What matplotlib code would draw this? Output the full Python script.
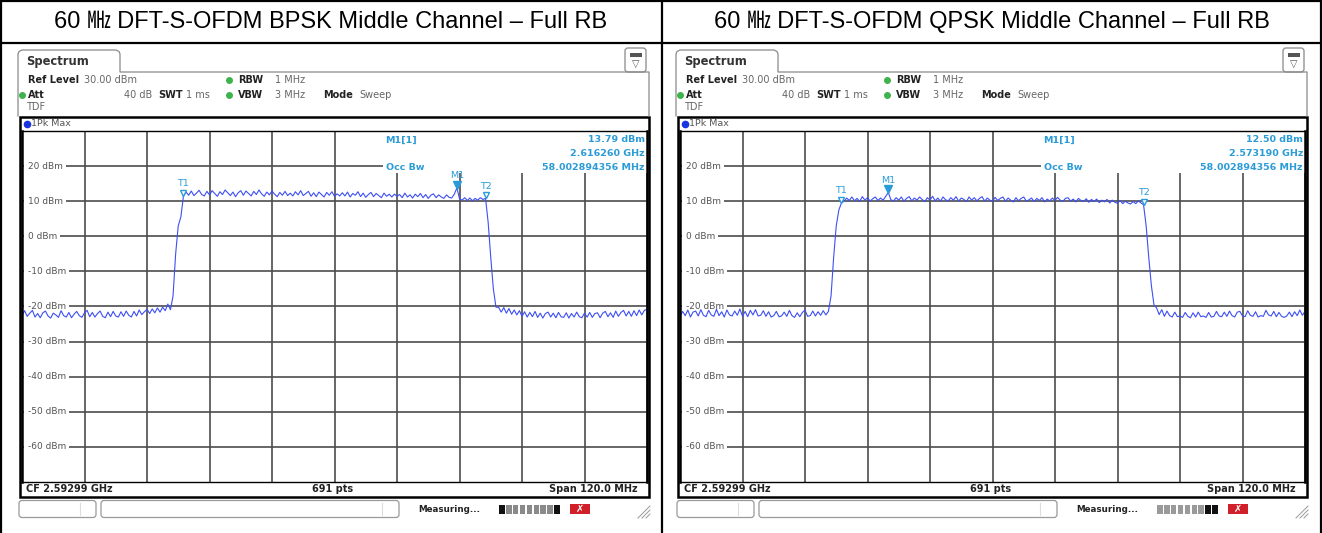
import numpy as np
import matplotlib
matplotlib.use("Agg")
import matplotlib.pyplot as plt
from matplotlib.patches import Rectangle, FancyBboxPatch
import matplotlib.transforms as mtransforms

# ---------------- data ----------------
titles = ["60 ㎒ DFT-S-OFDM BPSK Middle Channel – Full RB",
          "60 ㎒ DFT-S-OFDM QPSK Middle Channel – Full RB"]
center_freq_ghz = 2.59299
span_mhz = 120.0
n_points = 691
ref_level_dbm = 30.0
bottom_level_dbm = -70.0
y_tick_values = [20, 10, 0, -10, -20, -30, -40, -50, -60]
m1_level_dbm = [13.79, 12.50]
m1_freq_ghz = [2.616260, 2.573190]
occ_bw_mhz = [58.002894356, 58.002894356]

# trace levels (dBm), 0.5 MHz steps from -60 to +60 MHz
bpsk_levels = [
    -22.6, -21.2, -22.8, -21.9, -21.1, -23.0, -22.0, -23.2, -21.8, -21.3,
    -22.7, -23.3, -21.9, -22.4, -23.1, -21.2, -22.6, -23.0, -21.7, -23.2,
    -22.2, -21.4, -22.6, -23.1, -21.8, -21.1, -22.9, -21.7, -23.0, -22.0,
    -21.3, -22.8, -23.2, -21.6, -22.9, -21.4, -22.7, -23.0, -21.5, -22.8,
    -21.3, -22.5, -23.0, -21.4, -22.7, -21.0, -22.3, -21.5, -20.8, -22.0,
    -20.7, -21.8, -20.4, -21.6, -20.2, -21.2, -19.3, -20.9,
    -17.0, -5.0, 3.0, 5.5, 11.5,
    12.6, 11.7, 12.9, 11.6, 12.3, 13.1, 11.9, 11.5, 12.8, 11.8,
    13.0, 12.2, 11.4, 12.7, 11.9, 13.2, 12.4, 11.6, 12.6, 11.3,
    12.4, 13.0, 11.7, 12.9, 12.2, 11.5, 12.8, 11.9, 13.2, 12.1,
    11.4, 12.6, 11.8, 12.9, 12.0, 11.3, 12.5, 11.7, 12.8, 11.6,
    12.3, 11.5, 12.7, 11.8, 13.0, 11.6, 12.2, 12.8, 11.4, 12.4,
    11.3, 12.6, 11.9, 11.2, 12.5, 11.7, 12.7, 11.4, 12.1, 11.5,
    12.4, 11.5, 12.6, 11.2, 12.2, 11.7, 12.7, 11.3, 12.3, 11.1,
    11.9, 12.5, 11.3, 12.2, 11.6, 11.0, 12.3, 11.4, 12.0, 11.2,
    12.0, 11.4, 11.9, 11.0, 12.3, 11.2, 11.8, 10.9, 12.0, 11.3,
    12.2, 11.0, 11.9, 10.8, 11.7, 12.1, 11.0, 11.8, 11.2, 10.8,
    11.8, 11.1, 10.9, 12.0, 13.79, 10.7, 10.3, 11.0, 10.2, 10.9,
    10.1, 10.8, 10.3, 11.0, 10.5,
    10.8, 4.0, -6.0, -15.0, -20.2,
    -20.2, -21.6, -20.3, -21.9, -20.6, -22.2, -21.0, -22.4, -21.2, -22.8,
    -21.5, -23.0, -21.7, -22.9, -21.4, -23.1, -21.9, -23.3, -22.0, -21.6,
    -23.0, -21.9, -23.2, -21.7, -22.9, -23.1, -21.8, -23.3, -22.0, -23.0,
    -21.6, -22.9, -23.2, -21.9, -23.0, -21.7, -23.1, -22.0, -21.8, -23.2,
    -21.9, -21.4, -22.9, -21.8, -23.1, -21.3, -22.8, -21.7, -21.1, -22.7,
    -21.4, -22.8, -21.2, -22.6, -21.0, -22.4, -21.1, -20.8,
]
qpsk_levels = [
    -22.8, -21.4, -22.6, -21.0, -23.0, -21.6, -21.3, -22.7, -20.9, -22.5,
    -22.9, -21.1, -22.4, -22.8, -20.8, -22.6, -21.5, -23.0, -21.0, -22.4,
    -22.7, -21.3, -22.5, -20.7, -22.8, -21.4, -22.9, -21.1, -22.4, -20.9,
    -22.7, -22.5, -21.2, -22.8, -21.5, -23.0, -22.6, -21.4, -22.9, -22.7,
    -21.6, -22.8, -21.1, -22.6, -23.1, -21.8, -22.9, -21.7, -21.0, -22.8,
    -22.6, -21.3, -22.7, -21.5, -22.5, -21.2, -22.4, -21.4,
    -17.0, -6.0, 3.0, 7.5, 9.5,
    10.0, 10.9, 10.2, 11.2, 10.1, 10.8, 9.9, 11.3, 10.3, 11.0,
    10.0, 10.7, 11.2, 10.2, 10.9, 10.3, 11.4, 12.50, 10.4, 10.1,
    11.0, 10.3, 11.2, 10.0, 10.8, 11.3, 10.1, 10.9, 10.3, 11.2,
    10.5, 9.9, 11.0, 10.3, 11.4, 10.1, 10.9, 10.0, 11.2, 10.4,
    10.1, 11.0, 10.3, 11.3, 10.0, 10.9, 10.5, 9.9, 11.2, 10.3,
    11.0, 10.1, 10.8, 11.3, 10.0, 10.9, 10.3, 9.9, 11.1, 10.2,
    10.8, 11.2, 10.0, 10.9, 10.3, 9.8, 11.0, 10.1, 10.8, 11.2,
    10.0, 10.4, 10.9, 9.9, 10.8, 10.2, 11.0, 9.8, 10.6, 10.1,
    10.9, 10.2, 11.1, 10.3, 9.9, 10.8, 11.0, 10.0, 10.6, 9.8,
    10.8, 10.2, 9.9, 10.7, 9.7, 10.5, 9.9, 10.6, 9.6, 10.3,
    9.8, 10.5, 9.5, 10.3, 9.7, 9.4, 10.2, 9.3, 10.0, 9.5,
    9.2, 9.9, 9.3, 10.1, 9.5,
    9.0, 3.0, -6.0, -14.0, -19.5,
    -20.4, -22.3, -20.9, -22.8, -21.3, -22.6, -23.0, -21.6, -22.9, -22.7,
    -23.1, -21.7, -22.8, -23.2, -21.8, -23.0, -21.6, -22.9, -22.7, -23.1,
    -21.7, -23.0, -22.8, -21.4, -22.7, -22.9, -21.6, -22.8, -21.3, -22.6,
    -23.0, -21.6, -21.4, -22.7, -22.9, -21.2, -22.5, -22.8, -21.5, -23.0,
    -22.6, -22.8, -21.1, -22.4, -22.7, -21.4, -22.9, -21.7, -22.8, -23.1,
    -22.7, -21.6, -22.9, -21.5, -22.6, -21.0, -22.5, -21.4,
]
traces = [bpsk_levels, qpsk_levels]

# ---------------- layout ----------------
W, H = 1322, 533
fig = plt.figure(figsize=(W / 100, H / 100), dpi=100)
bg = fig.add_axes([0, 0, 1, 1])
bg.set_xlim(0, W)
bg.set_ylim(H, 0)
bg.axis("off")

LB = "#2b9bd8"      # marker text colour
TRACE = "#3d4ff5"
GREEN = "#3cb44b"
GRID = "#4d4d4d"


def T(x, y, s, **kw):
    kw.setdefault("fontsize", 7)
    kw.setdefault("va", "center")
    kw.setdefault("ha", "left")
    kw.setdefault("color", "#222222")
    return bg.text(x, y, s, **kw)


# table borders
for y in (1, 43):
    bg.plot([0, W], [y, y], color="black", lw=1.6)
for x in (1, 662, 1320.5):
    bg.plot([x, x], [0, H], color="black", lw=1.6)

panel_offsets = [0, 658]
title_cx = [331, 992]

for k in range(2):
    ox = panel_offsets[k]
    levels = np.array(traces[k])
    freq = np.linspace(-span_mhz / 2, span_mhz / 2, len(levels))

    # title
    bg.text(title_cx[k], 22, titles[k], ha="center", va="center", fontsize=17,
            family=["Liberation Sans", "Noto Sans CJK JP"], color="black")

    # tab + header outline
    tab = [(18, 116), (18, 54), (19, 51.5), (22, 50), (116, 50), (119, 51.5),
           (120, 54), (120, 72), (649, 72), (649, 116)]
    bg.plot([p[0] + ox for p in tab], [p[1] for p in tab], color="#8a8a8a", lw=0.9)
    T(26 + ox, 61, "Spectrum", fontsize=8.3, fontweight="bold", color="#333333")
    bg.add_patch(FancyBboxPatch((625 + ox, 48), 21, 24,
                                boxstyle="round,pad=0,rounding_size=3",
                                fc="white", ec="#888888", lw=0.9))
    bg.add_patch(Rectangle((629.5 + ox, 53), 12, 3.5, fc="#555555", ec="none"))
    bg.text(635.5 + ox, 64, "▽", ha="center", va="center", fontsize=7, color="#555555")

    # header settings
    T(28 + ox, 80, "Ref Level", fontweight="bold")
    T(84 + ox, 80, f"{ref_level_dbm:.2f} dBm", color="#666666")
    bg.plot([229 + ox], [80], "o", ms=4, color=GREEN)
    T(238 + ox, 80, "RBW", fontweight="bold")
    T(275 + ox, 80, "1 MHz", color="#666666")
    bg.plot([22 + ox], [94.5], "o", ms=4, color=GREEN)
    T(28 + ox, 94.5, "Att", fontweight="bold")
    T(124 + ox, 94.5, "40 dB", color="#666666")
    T(158 + ox, 94.5, "SWT", fontweight="bold")
    T(186 + ox, 94.5, "1 ms", color="#666666")
    bg.plot([229 + ox], [94.5], "o", ms=4, color=GREEN)
    T(238 + ox, 94.5, "VBW", fontweight="bold")
    T(275 + ox, 94.5, "3 MHz", color="#666666")
    T(323 + ox, 94.5, "Mode", fontweight="bold")
    T(359 + ox, 94.5, "Sweep", color="#666666")
    T(26 + ox, 107.5, "TDF", color="#666666")

    # display frame
    bg.add_patch(Rectangle((20 + ox, 116.5), 629, 380.5, fc="white", ec="black", lw=1.8))
    bg.plot([27 + ox], [124], "o", ms=4.5, color="#1a35e0")
    T(31 + ox, 124, "1Pk Max", color="#555555", fontsize=6.8)

    # footer
    T(26 + ox, 489.5, f"CF {center_freq_ghz:.5f} GHz", fontweight="bold", fontsize=7)
    T(333 + ox, 489.5, f"{n_points} pts", fontweight="bold", fontsize=7, ha="center")
    T(638 + ox, 489.5, f"Span {span_mhz:.1f} MHz", fontweight="bold", fontsize=7, ha="right")

    # status bar
    for (x0, x1, xd) in ((19, 96, 80), (101, 399, 382)):
        bg.add_patch(FancyBboxPatch((x0 + ox, 500.5), x1 - x0, 17,
                                    boxstyle="round,pad=0,rounding_size=3",
                                    fc="white", ec="#9a9a9a", lw=0.9))
        bg.plot([xd + ox, xd + ox], [503, 515], color="#dddddd", lw=0.8)
    T(418 + ox, 509, "Measuring...", fontweight="bold", fontsize=6.3, color="#222222")
    segs = (["#111111"] + ["#8a8a8a"] * 7 + ["#111111"]) if k == 0 else \
           (["#9a9a9a"] * 7 + ["#111111", "#111111"])
    for i, c in enumerate(segs):
        bg.add_patch(Rectangle((499 + ox + i * 6.9, 504.5), 5.6, 9, fc=c, ec="none"))
    bg.add_patch(Rectangle((570 + ox, 504), 20, 10, fc="#d0202a", ec="none"))
    bg.text(580 + ox, 509, "✗", ha="center", va="center", fontsize=7, color="white",
            fontweight="bold")
    for d in (0, 4, 8):
        bg.plot([638 + ox + d, 650 + ox], [518, 506 + d], color="#999999", lw=0.7)

    # ---------------- spectrum plot ----------------
    x0, x1, y0, y1 = 22 + ox, 647 + ox, 131, 482
    ax = fig.add_axes([x0 / W, 1 - y1 / H, (x1 - x0) / W, (y1 - y0) / H])
    ax.set_xlim(-span_mhz / 2, span_mhz / 2)
    ax.set_ylim(bottom_level_dbm, ref_level_dbm)
    ax.set_xticks(np.arange(-span_mhz / 2, span_mhz / 2 + 0.1, span_mhz / 10))
    ax.set_yticks(y_tick_values)
    ax.grid(True, color=GRID, lw=1.2)
    ax.tick_params(length=0, labelbottom=False, labelleft=False)
    for side, s in ax.spines.items():
        s.set_color("black")
        s.set_linewidth(1.8 if side in ("left", "right") else 1.0)
        s.set_zorder(7)

    ylab_tr = mtransforms.blended_transform_factory(ax.transAxes, ax.transData)
    for v in y_tick_values:
        ax.text(0.009, v, f"{v} dBm", transform=ylab_tr, ha="left", va="center",
                fontsize=6.5, color="#555555", zorder=3,
                bbox=dict(fc="white", ec="none", pad=2.6))

    # marker info box
    ax.add_patch(Rectangle((383 + ox, 132), 647 - 383, 41, fc="white", ec="none",
                           zorder=2.5, transform=bg.transData, clip_on=False))
    info_kw = dict(transform=bg.transData, fontsize=6.8, fontweight="bold",
                   color=LB, va="center", zorder=6)
    ax.text(385 + ox, 140, "M1[1]", ha="left", **info_kw)
    ax.text(645 + ox, 140, f"{m1_level_dbm[k]:.2f} dBm", ha="right", **info_kw)
    ax.text(645 + ox, 153.5, f"{m1_freq_ghz[k]:.6f} GHz", ha="right", **info_kw)
    ax.text(645 + ox, 167, f"{occ_bw_mhz[k]:.9f} MHz", ha="right", **info_kw)
    ax.text(386 + ox, 167, "Occ Bw", ha="left", **info_kw)

    # trace
    ax.plot(freq, levels, color=TRACE, lw=0.8, zorder=4)

    # markers
    up = mtransforms.offset_copy(ax.transData, fig=fig, x=0, y=2.2, units="points")
    lab = mtransforms.offset_copy(ax.transData, fig=fig, x=0, y=5.5, units="points")
    im = int(np.argmax(levels))
    ax.plot([freq[im]], [levels[im]], marker="v", ms=5.5, color=LB, transform=up,
            zorder=6, clip_on=False)
    ax.text(freq[im], levels[im], "M1", transform=lab, ha="center", va="bottom",
            fontsize=6.8, color=LB, zorder=6)
    for name, f in (("T1", -occ_bw_mhz[k] / 2), ("T2", occ_bw_mhz[k] / 2)):
        lv = float(np.interp(f, freq, levels))
        ax.plot([f], [lv], marker="v", ms=5, mfc="white", mec=LB, mew=1.0,
                transform=up, zorder=6, clip_on=False)
        ax.text(f, lv, name, transform=lab, ha="center", va="bottom",
                fontsize=6.8, color=LB, zorder=6)

fig.savefig("out.png", dpi=100)
